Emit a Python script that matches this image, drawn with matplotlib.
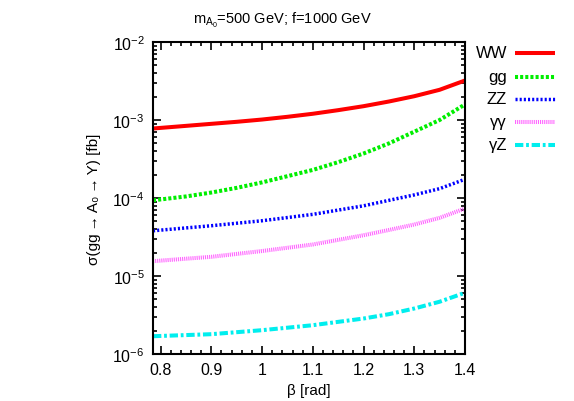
import matplotlib
matplotlib.use("Agg")
import matplotlib.pyplot as plt
from matplotlib.ticker import MultipleLocator, LogLocator, NullFormatter, FuncFormatter
from matplotlib.lines import Line2D

plt.rcParams['font.family'] = ['Liberation Sans', 'DejaVu Sans']
plt.rcParams['lines.scale_dashes'] = False
plt.rcParams['mathtext.fontset'] = 'custom'
plt.rcParams['mathtext.rm'] = 'Liberation Sans'
plt.rcParams['mathtext.it'] = 'Liberation Sans'

beta_fine = [0.785, 0.85, 0.9, 0.95, 1.0, 1.05, 1.1, 1.15, 1.2, 1.25, 1.3, 1.35, 1.4]
ww = [7.78e-4, 8.41e-4, 8.93e-4, 9.48e-4, 1.014e-3, 1.099e-3, 1.202e-3, 1.337e-3,
      1.503e-3, 1.726e-3, 2.018e-3, 2.44e-3, 3.21e-3]
gg = [9.33e-5, 1.047e-4, 1.175e-4, 1.349e-4, 1.585e-4, 1.905e-4, 2.29e-4, 2.88e-4,
      3.72e-4, 5.01e-4, 7.08e-4, 1.0e-3, 1.585e-3]

beta = [0.785, 0.9, 1.0, 1.1, 1.2, 1.25, 1.3, 1.35, 1.4]
zz = [3.80e-5, 4.41e-5, 5.11e-5, 6.17e-5, 7.94e-5, 9.33e-5, 1.096e-4, 1.318e-4, 1.738e-4]
aa = [1.549e-5, 1.762e-5, 2.09e-5, 2.535e-5, 3.33e-5, 3.89e-5, 4.57e-5, 5.57e-5, 7.33e-5]
az = [1.69e-6, 1.795e-6, 2.02e-6, 2.34e-6, 2.85e-6, 3.24e-6, 3.83e-6, 4.68e-6, 6.10e-6]

labels = ['WW', 'gg', 'ZZ', 'γγ', 'γZ']
xs = [beta_fine, beta_fine, beta, beta, beta]
series = [ww, gg, zz, aa, az]
colors = ['#ff0000', '#00ee00', '#0000ff', '#ff66ff', '#00eeee']
styles = [dict(lw=2.9, ls='-'),
          dict(lw=2.9, dashes=(2.2, 1.5)),
          dict(lw=2.5, dashes=(1.5, 1.5)),
          dict(lw=2.9, dashes=(0.8, 0.7)),
          dict(lw=2.9, dashes=(6, 2, 2, 2))]

fig = plt.figure(figsize=(5.74, 4.02), dpi=100)
ax = fig.add_axes([153/574, 1-355/402, (465-153)/574, (355-43)/402])

for x, y, c, st in zip(xs, series, colors, styles):
    ax.plot(x, y, color=c, solid_capstyle='butt', dash_capstyle='butt', **st)

ax.set_yscale('log')
ax.set_xlim(0.785, 1.4)
ax.set_ylim(1e-6, 1e-2)
ax.xaxis.set_major_locator(MultipleLocator(0.1))
ax.xaxis.set_minor_locator(MultipleLocator(0.02))
ax.yaxis.set_major_locator(LogLocator(base=10, numticks=10))
ax.yaxis.set_minor_locator(LogLocator(base=10, subs=range(2, 10), numticks=10))
ax.yaxis.set_minor_formatter(NullFormatter())
ax.tick_params(which='both', direction='in', top=True, right=True, width=1.2, labelsize=11.5, pad=6)
ax.tick_params(which='major', length=6)
ax.tick_params(which='minor', length=3)
ax.xaxis.set_major_formatter(FuncFormatter(lambda v, p: ('%g' % round(v, 2))))
for s in ax.spines.values():
    s.set_linewidth(1.5)

ax.set_xlabel('β [rad]', fontsize=11, labelpad=4)
ax.set_ylabel('σ(gg\u2009→\u2009A₀\u2009→\u2009Y) [fb]', fontsize=11, labelpad=8)
fig.text(282/574, 1-20/402, 'm$_{\\mathrm{A}_0}$=500 GeV; f=1000 GeV', ha='center', va='center', fontsize=10.5)

rows = [54, 77.5, 100, 123, 146]
for lab, c, st, yy in zip(labels, colors, styles, rows):
    yf = 1 - yy/402
    fig.text(507/574, yf, lab, ha='right', va='center', fontsize=12)
    fig.add_artist(Line2D([515/574, 555/574], [yf, yf], color=c, solid_capstyle='butt',
                          dash_capstyle='butt', **st))

fig.savefig('out.png', dpi=100)
